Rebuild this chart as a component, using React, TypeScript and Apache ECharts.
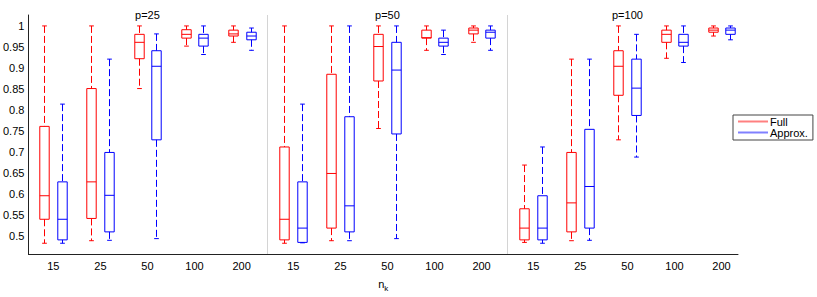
import React, { useEffect, useRef } from "react";
import * as echarts from "echarts";

// Tick labels / categories
const categories = ["15", "25", "50", "100", "200"];
const panelLabels = ["p=25", "p=50", "p=100"];
const yTicks = [0.5, 0.55, 0.6, 0.65, 0.7, 0.75, 0.8, 0.85, 0.9, 0.95, 1];

// Box stats per category: [lowerWhisker, q1, median, q3, upperWhisker]
const fullP25 = [
  [0.483, 0.54, 0.596, 0.761, 1.0],
  [0.489, 0.542, 0.629, 0.851, 1.0],
  [0.851, 0.922, 0.961, 0.98, 1.0],
  [0.952, 0.971, 0.98, 0.991, 1.0],
  [0.961, 0.976, 0.981, 0.99, 1.0],
];
const approxP25 = [
  [0.483, 0.491, 0.54, 0.629, 0.814],
  [0.49, 0.51, 0.597, 0.699, 0.921],
  [0.494, 0.729, 0.904, 0.941, 0.981],
  [0.932, 0.952, 0.971, 0.98, 1.0],
  [0.942, 0.967, 0.976, 0.985, 0.995],
];
const fullP50 = [
  [0.483, 0.491, 0.54, 0.712, 1.0],
  [0.489, 0.519, 0.649, 0.885, 1.0],
  [0.756, 0.869, 0.951, 0.98, 1.0],
  [0.942, 0.971, 0.972, 0.99, 1.0],
  [0.961, 0.981, 0.99, 0.995, 1.0],
];
const approxP50 = [
  [0.484, 0.485, 0.519, 0.629, 0.814],
  [0.489, 0.51, 0.572, 0.784, 1.0],
  [0.494, 0.743, 0.895, 0.961, 1.0],
  [0.932, 0.952, 0.961, 0.971, 0.99],
  [0.942, 0.971, 0.985, 0.99, 1.0],
];
const fullP100 = [
  [0.485, 0.491, 0.519, 0.565, 0.669],
  [0.489, 0.51, 0.579, 0.699, 0.921],
  [0.729, 0.835, 0.904, 0.941, 1.0],
  [0.923, 0.961, 0.98, 0.99, 1.0],
  [0.976, 0.985, 0.99, 0.995, 1.0],
];
const approxP100 = [
  [0.483, 0.491, 0.519, 0.596, 0.712],
  [0.49, 0.519, 0.618, 0.754, 0.921],
  [0.688, 0.787, 0.852, 0.921, 0.98],
  [0.913, 0.952, 0.961, 0.98, 1.0],
  [0.967, 0.98, 0.99, 0.995, 1.0],
];

const fullPanels = [fullP25, fullP50, fullP100];
const approxPanels = [approxP25, approxP50, approxP100];

const FONT = "'Liberation Sans', Arial, Helvetica, sans-serif";
const PANEL_STRIDE = 5.1;
const positions: number[] = [];
for (let p = 0; p < 3; p++) for (let i = 0; i < 5; i++) positions.push(p * PANEL_STRIDE + i + 1);
const separators = [PANEL_STRIDE * 0 + 5.55, PANEL_STRIDE * 1 + 5.55];
const titlePositions = [0, 1, 2].map((p) => p * PANEL_STRIDE + 3);

const buildData = (panels: number[][][]) => {
  const out: number[][] = [];
  panels.forEach((panel, p) =>
    panel.forEach((s, i) => out.push([positions[p * 5 + i], ...s]))
  );
  return out;
};

const makeRenderer = (offset: number, color: string) => (params: any, api: any) => {
  const x = api.value(0) + offset;
  const lo = api.coord([x, api.value(1)]);
  const q1 = api.coord([x, api.value(2)]);
  const med = api.coord([x, api.value(3)]);
  const q3 = api.coord([x, api.value(4)]);
  const hi = api.coord([x, api.value(5)]);
  const w = api.size([0.2, 0])[0];
  const cx = Math.round(lo[0]) + 0.5;
  const hw = w / 2;
  const cw = hw / 2;
  const base = { stroke: color, lineWidth: 1, fill: "none" };
  const dash = { ...base, lineDash: [7, 3] };
  return {
    type: "group",
    children: [
      { type: "line", shape: { x1: cx, y1: hi[1], x2: cx, y2: q3[1] }, style: dash },
      { type: "line", shape: { x1: cx, y1: q1[1], x2: cx, y2: lo[1] }, style: dash },
      { type: "line", shape: { x1: cx - cw, y1: hi[1], x2: cx + cw, y2: hi[1] }, style: base },
      { type: "line", shape: { x1: cx - cw, y1: lo[1], x2: cx + cw, y2: lo[1] }, style: base },
      {
        type: "rect",
        shape: { x: cx - hw, y: q3[1], width: w, height: q1[1] - q3[1] },
        style: base,
      },
      { type: "line", shape: { x1: cx - hw, y1: med[1], x2: cx + hw, y2: med[1] }, style: base },
    ],
  };
};

export default function App() {
  const ref = useRef<HTMLDivElement>(null);
  useEffect(() => {
    if (!ref.current) return;
    const chart = echarts.init(ref.current, undefined, { renderer: "svg" });
    const yMin = 0.4574;
    const yMax = 1.026;
    chart.setOption({
      animation: false,
      textStyle: { fontFamily: FONT },
      grid: { left: 25, right: 79, top: 15, bottom: 35 },
      legend: {
        data: [
          { name: "Full", itemStyle: { color: "#ff8080" } },
          { name: "Approx.", itemStyle: { color: "#8080ff" } },
        ],
        orient: "vertical",
        left: 733,
        top: 115,
        icon: "rect",
        itemWidth: 30,
        itemHeight: 2,
        itemGap: 0,
        padding: [1, 5, 2, 5],
        borderColor: "#444",
        borderWidth: 1,
        textStyle: { fontSize: 11, color: "#000", fontFamily: FONT, padding: [0, 0, 0, -3] },
      },
      xAxis: {
        type: "value",
        min: 0.47,
        max: 15.55,
        name: "n{k|k}",
        nameLocation: "middle",
        nameGap: 22,
        nameTextStyle: {
          fontSize: 11,
          color: "#000",
          fontFamily: FONT,
          rich: { k: { fontSize: 8, padding: [8, 0, 0, 0], fontFamily: FONT, color: "#000" } },
        },
        axisLine: { show: true, lineStyle: { color: "#222", width: 1 } },
        axisTick: { show: false },
        splitLine: { show: false },
        axisLabel: {
          customValues: positions,
          fontSize: 11,
          color: "#000",
          margin: 6,
          fontFamily: FONT,
          formatter: (v: number) => {
            const idx = positions.findIndex((p) => Math.abs(p - v) < 1e-6);
            return idx >= 0 ? categories[idx % 5] : "";
          },
        },
      },
      yAxis: {
        type: "value",
        min: yMin,
        max: yMax,
        axisLine: { show: true, lineStyle: { color: "#222", width: 1 } },
        axisTick: { show: false },
        splitLine: { show: false },
        axisLabel: {
          customValues: yTicks,
          fontSize: 11,
          color: "#000",
          margin: 4,
          fontFamily: FONT,
          formatter: (v: number) => String(parseFloat(v.toFixed(2))),
        },
      },
      series: [
        {
          name: "panels",
          type: "custom",
          data: titlePositions.map((x) => [x, yMax]),
          encode: { x: 0, y: 1 },
          silent: true,
          renderItem: (params: any, api: any) => {
            const pt = api.coord([api.value(0), api.value(1)]);
            return {
              type: "text",
              x: pt[0],
              y: pt[1],
              style: {
                text: panelLabels[params.dataIndex],
                textAlign: "center",
                textVerticalAlign: "middle",
                fontSize: 11,
                fontFamily: FONT,
                fill: "#000",
              },
            };
          },
          markLine: {
            silent: true,
            symbol: "none",
            label: { show: false },
            lineStyle: { color: "#d4d4d4", type: "solid", width: 1 },
            data: separators.map((s) => ({ xAxis: s })),
          },
        },
        {
          name: "Full",
          type: "custom",
          itemStyle: { color: "#ff0000" },
          data: buildData(fullPanels),
          encode: { x: 0, y: [1, 2, 3, 4, 5] },
          renderItem: makeRenderer(-0.19, "#ff0000"),
        },
        {
          name: "Approx.",
          type: "custom",
          itemStyle: { color: "#0000ff" },
          data: buildData(approxPanels),
          encode: { x: 0, y: [1, 2, 3, 4, 5] },
          renderItem: makeRenderer(0.19, "#0000ff"),
        },
      ],
    });
    return () => chart.dispose();
  }, []);
  return (
    <div
      ref={ref}
      style={{ position: "fixed", left: 0, top: 0, width: 817, height: 297, background: "#fff" }}
    />
  );
}
